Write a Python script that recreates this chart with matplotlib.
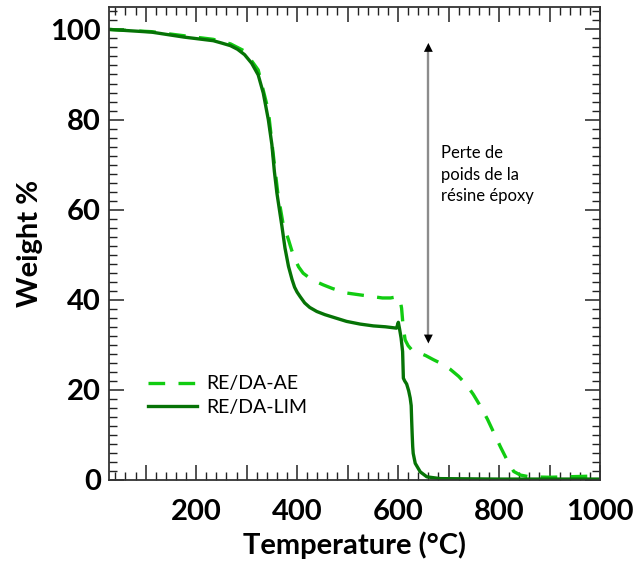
import matplotlib
matplotlib.use('Agg')
from matplotlib import pyplot as plt
from matplotlib.ticker import MultipleLocator, FuncFormatter

# TGA curves
temp_lim = [28, 112, 176, 234, 250, 268, 282, 296, 310, 323, 333, 343, 350, 355, 360, 365,
            370, 376, 383, 390, 395, 400, 406, 415, 425, 439, 455, 475, 498, 525, 551, 575,
            597, 600.5, 603, 606, 609, 610.5, 613, 617, 621, 624, 626, 627, 628, 629, 630,
            634, 644, 657, 684, 800, 1000]
weight_lim = [100, 99.4, 98.3, 97.5, 97.0, 96.4, 95.6, 94.4, 92.5, 89.9, 85.9, 80, 74.5, 68.5, 63.7, 60,
              56.3, 51.5, 47.4, 44.5, 42.8, 41.7, 40.7, 39.3, 38.3, 37.4, 36.7, 36, 35.2, 34.6, 34.2, 34,
              33.7, 35, 33.5, 31.5, 28.5, 22.6, 22, 21.3, 19.8, 18.2, 16.5, 13, 10, 7.4, 5.9,
              3.7, 1.8, 0.7, 0.3, 0.2, 0.2]

temp_ae = [28, 112, 176, 234, 268, 296, 323, 343, 352, 362, 372, 378, 383, 389, 395, 403,
           412, 425, 440, 452, 470, 498, 530, 569, 585, 600, 604, 607, 610, 614, 620, 627,
           640, 655, 670, 690, 703, 720, 735, 749, 763, 777, 790, 803, 816, 829, 842, 860,
           900, 1000]
weight_ae = [100, 99.5, 98.6, 97.8, 96.8, 95.2, 91, 82, 73, 63.5, 57, 55, 53.3, 51.1, 49.2, 47.3,
             45.9, 44.8, 43.9, 43.3, 42.5, 41.5, 41, 40.4, 40.4, 40.7, 40, 38.1, 34.1, 31.1, 29.8, 28.9,
             28.3, 27.6, 26.7, 25.6, 24.6, 23.0, 21.2, 19.0, 16.4, 13.5, 10.4, 7.3, 4.4, 1.9, 1.1, 0.7,
             0.6, 0.9]

labels = ['RE/DA-AE', 'RE/DA-LIM']
note = 'Perte de\npoids de la\nrésine époxy'
arrow_x, arrow_top, arrow_bottom = 660, 97, 30.3

plt.rcParams['font.family'] = ['Lato', 'DejaVu Sans']

fig = plt.figure(figsize=(6.39, 5.76), dpi=100)
ax = fig.add_axes([0.171, 0.1667, 0.768, 0.8213])

ax.plot(temp_ae, weight_ae, c='#11cc11', lw=2.4, dashes=(5, 4), label=labels[0])
ax.plot(temp_lim, weight_lim, c='#067306', lw=2.4, label=labels[1])

ax.set_xlim(28, 1000)
ax.set_ylim(0, 105)

# double arrow: gray shaft, black heads
mid = (arrow_top + arrow_bottom) / 2
ax.plot([arrow_x, arrow_x], [arrow_bottom + 2, arrow_top - 2], c='0.55', lw=1.7)
for tip in (arrow_top, arrow_bottom):
    ax.annotate('', xy=(arrow_x, tip), xytext=(arrow_x, mid),
                arrowprops=dict(arrowstyle='-|>', color='black', lw=0,
                                mutation_scale=16, shrinkA=0, shrinkB=0))
ax.text(686, 67.8, note, fontsize=12, va='center', ha='left', linespacing=1.45)

ax.xaxis.set_major_locator(MultipleLocator(100))
ax.xaxis.set_minor_locator(MultipleLocator(20))
ax.xaxis.set_major_formatter(FuncFormatter(lambda v, p: '%d' % v if v % 200 == 0 else ''))
ax.yaxis.set_major_locator(MultipleLocator(20))
ax.yaxis.set_minor_locator(MultipleLocator(2))

ax.tick_params(axis='both', which='both', direction='in', top=True, right=True,
               color='#222222')
ax.tick_params(axis='both', which='major', length=11, width=1.1, labelsize=21)
ax.tick_params(axis='both', which='minor', length=5.5, width=1.0)
ax.tick_params(axis='x', which='major', pad=14)
ax.tick_params(axis='y', which='major', pad=6)
for lab in ax.get_xticklabels() + ax.get_yticklabels():
    lab.set_fontweight('bold')
for s in ax.spines.values():
    s.set_color('#333333')
    s.set_linewidth(1.3)

ax.set_xlabel('Temperature (°C)', fontsize=21, fontweight='bold', labelpad=4)
ax.set_ylabel('Weight %', fontsize=21, fontweight='bold', labelpad=5)

ax.legend(loc='center left', bbox_to_anchor=(0.079, 0.178), frameon=False,
          fontsize=14, borderpad=0, borderaxespad=0, handlelength=2.5,
          handletextpad=0.5, labelspacing=0.35)

fig.savefig('out.png', dpi=100)
